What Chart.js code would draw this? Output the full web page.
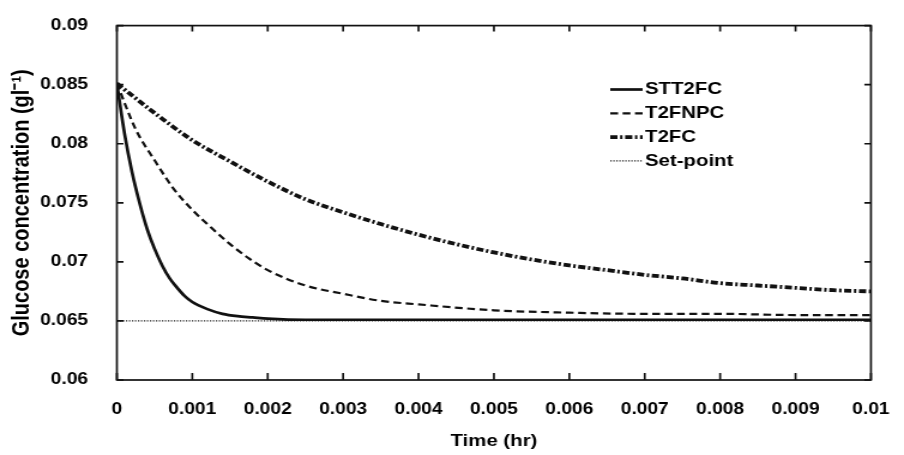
<!DOCTYPE html>
<html>
<head>
<meta charset="utf-8">
<script src="https://cdn.jsdelivr.net/npm/chart.js@4/dist/chart.umd.min.js"></script>
<style>
  html, body { margin:0; padding:0; background:#fff; overflow:hidden; }
  /* the source figure is stretched sideways, so draw narrow and widen it */
  #wrap { width:754px; height:455px; transform:scaleX(1.19894); transform-origin:0 0; }
</style>
</head>
<body>
<div id="wrap"><canvas id="chart"></canvas></div>
<script>
// ── DATA ─────────────────────────────────────────────
const fastTimes = [0, 0.0001, 0.0002, 0.0003, 0.0004, 0.0005, 0.0006, 0.0007, 0.0008, 0.0009, 0.001,
  0.0012, 0.0014, 0.0016, 0.0018, 0.002, 0.0025, 0.003, 0.004, 0.005, 0.006, 0.007, 0.008, 0.009, 0.01];
const stt2fc = [0.0851, 0.0809, 0.0776, 0.0750, 0.0728, 0.0711, 0.0697, 0.0686, 0.0678, 0.0671, 0.0666,
  0.0660, 0.0656, 0.0654, 0.0653, 0.0652, 0.0651, 0.0651, 0.0651, 0.0651, 0.0651, 0.0651, 0.0651, 0.0651, 0.0651];

const midTimes = [0, 0.00025, 0.0005, 0.00075, 0.001, 0.00125, 0.0015, 0.00175, 0.002, 0.0025, 0.003,
  0.0035, 0.004, 0.005, 0.006, 0.007, 0.008, 0.009, 0.01];
const t2fnpc = [0.0851, 0.0812, 0.0786, 0.0762, 0.0744, 0.0729, 0.0715, 0.0703, 0.0693, 0.0680, 0.0673,
  0.0667, 0.0664, 0.0659, 0.0657, 0.0656, 0.0656, 0.0655, 0.0655];

const slowTimes = [0, 0.0005, 0.001, 0.0015, 0.002, 0.0025, 0.003, 0.0035, 0.004, 0.0045, 0.005,
  0.0055, 0.006, 0.0065, 0.007, 0.0075, 0.008, 0.0085, 0.009, 0.0095, 0.01];
const t2fc = [0.0851, 0.0826, 0.0803, 0.0785, 0.0768, 0.0753, 0.0742, 0.0732, 0.0723, 0.0715, 0.0708,
  0.0702, 0.0697, 0.0693, 0.0689, 0.0686, 0.0682, 0.0680, 0.0678, 0.0676, 0.0675];

const setTimes  = [0, 0.01];
const setPoint  = [0.065, 0.065];

const seriesNames = ['STT2FC', 'T2FNPC', 'T2FC', 'Set-point'];

const xTicks      = [0, 0.001, 0.002, 0.003, 0.004, 0.005, 0.006, 0.007, 0.008, 0.009, 0.01];
const xTickLabels = ['0', '0.001', '0.002', '0.003', '0.004', '0.005', '0.006', '0.007', '0.008', '0.009', '0.01'];
const yTicks      = [0.06, 0.065, 0.07, 0.075, 0.08, 0.085, 0.09];
const yTickLabels = ['0.06', '0.065', '0.07', '0.075', '0.08', '0.085', '0.09'];

const pts = (ts, vs) => ts.map((t, i) => ({x: t, y: vs[i]}));
const labelFor = (ticks, labels) => v => labels[ticks.findIndex(t => Math.abs(t - v) < 1e-9)] ?? '';

// ── PLUGINS ──────────────────────────────────────────
// boxed frame with inward tick marks on all four sides
const frame = {
  id: 'frame',
  afterDatasetsDraw(chart) {
    const {ctx, chartArea: a, scales: {x, y}} = chart;
    ctx.save();
    ctx.strokeStyle = '#111';
    ctx.lineWidth = 1.7;
    ctx.strokeRect(a.left, a.top, a.right - a.left, a.bottom - a.top);
    ctx.beginPath();
    xTicks.forEach(v => {
      const px = x.getPixelForValue(v);
      ctx.moveTo(px, a.bottom); ctx.lineTo(px, a.bottom - 7);
      ctx.moveTo(px, a.top);    ctx.lineTo(px, a.top + 6);
    });
    yTicks.forEach(v => {
      const py = y.getPixelForValue(v);
      ctx.moveTo(a.left, py);  ctx.lineTo(a.left + 5.5, py);
      ctx.moveTo(a.right, py); ctx.lineTo(a.right - 5.5, py);
    });
    ctx.stroke();
    ctx.restore();
  }
};

// legend inside the plot, top right
const innerLegend = {
  id: 'innerLegend',
  afterDraw(chart) {
    const {ctx} = chart;
    const x0 = 509, y0 = 89.5, step = 23.8;
    chart.data.datasets.forEach((ds, i) => {
      const yy = y0 + i * step;
      ctx.save();
      ctx.strokeStyle = ds.borderColor;
      ctx.lineWidth = ds.borderWidth;
      ctx.setLineDash(ds.borderDash || []);
      ctx.beginPath(); ctx.moveTo(x0, yy); ctx.lineTo(x0 + 27, yy); ctx.stroke();
      ctx.setLineDash([]);
      ctx.fillStyle = '#000';
      ctx.font = 'bold 17px "Liberation Sans", Arial, sans-serif';
      ctx.textBaseline = 'middle';
      ctx.fillText(ds.label, x0 + 29, yy);
      ctx.restore();
    });
  }
};

// ── CHART ────────────────────────────────────────────
Chart.defaults.font.family = '"Liberation Sans", Arial, sans-serif';
Chart.defaults.font.weight = 'bold';
Chart.defaults.font.size = 16;
Chart.defaults.color = '#000';

new Chart(document.getElementById('chart'), {
  type: 'line',
  data: {
    datasets: [
      {label: seriesNames[0], data: pts(fastTimes, stt2fc), borderColor: '#111', borderWidth: 2.7, borderDash: []},
      {label: seriesNames[1], data: pts(midTimes, t2fnpc), borderColor: '#111', borderWidth: 2.2, borderDash: [6.5, 3.8]},
      {label: seriesNames[2], data: pts(slowTimes, t2fc), borderColor: '#111', borderWidth: 3.8, borderDash: [6, 2.2, 2, 2.2]},
      {label: seriesNames[3], data: pts(setTimes, setPoint), borderColor: '#222', borderWidth: 1.3, borderDash: [1.2, 1.3]}
    ]
  },
  options: {
    responsive: true, maintainAspectRatio: false, animation: false,
    parsing: false,
    elements: {point: {radius: 0}, line: {cubicInterpolationMode: 'monotone', fill: false}},
    layout: {padding: {top: 20, right: 21, left: 0, bottom: 0}},
    plugins: {legend: {display: false}, tooltip: {enabled: false}},
    scales: {
      x: {
        type: 'linear', min: 0, max: 0.01,
        grid: {display: false}, border: {display: false},
        afterBuildTicks: s => { s.ticks = xTicks.map(v => ({value: v})); },
        afterFit: s => { s.height = 75; },
        ticks: {padding: 12, maxRotation: 0, autoSkip: false, callback: labelFor(xTicks, xTickLabels)},
        title: {display: true, text: 'Time (hr)', font: {size: 17, weight: 'bold'}, padding: {top: 0, bottom: 3}}
      },
      y: {
        type: 'linear', min: 0.06, max: 0.09,
        grid: {display: false}, border: {display: false},
        afterBuildTicks: s => { s.ticks = yTicks.map(v => ({value: v})); },
        afterFit: s => { s.width = 97.5; },
        ticks: {padding: 16, autoSkip: false, callback: labelFor(yTicks, yTickLabels)},
        title: {display: true, text: 'Glucose concentration (gl⁻¹)', font: {size: 20, weight: 'bold'}, padding: {top: 6, bottom: 0}}
      }
    }
  },
  plugins: [frame, innerLegend]
});
</script>
</body>
</html>
